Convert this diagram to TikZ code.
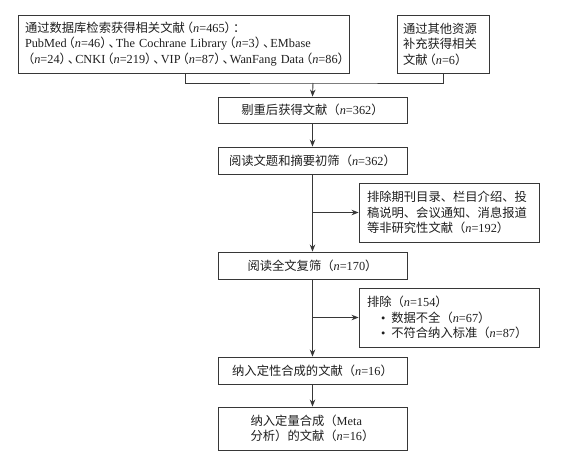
\documentclass[tikz,border=0pt]{standalone}
\usepackage{fontspec}
\setmainfont{Liberation Serif}
\newfontfamily\cjk{Noto Sans CJK SC}
\usetikzlibrary{arrows.meta}
\newcommand\zh[1]{{\cjk #1}}
\newcommand\nn[1]{\textit{n}=#1}
\newcommand\lp{{\cjk\kern-4pt（}}
\newcommand\rp{{\cjk ）\kern-4pt}}
\newcommand\dn{{\cjk 、\kern-5pt}}
\definecolor{lc}{RGB}{55,55,55}
\definecolor{tc}{RGB}{30,30,30}
\begin{document}
\begin{tikzpicture}[x=1pt,y=-1pt,
  box/.style={draw=lc, line width=0.9pt, text=tc, inner ysep=2pt,
    font=\fontsize{12.3}{15.5}\selectfont},
  mainbox/.style={box, minimum width=189pt, minimum height=26pt, align=center},
  sidebox/.style={box, text width=164pt, inner xsep=8pt, minimum height=59pt, align=left},
  arr/.style={draw=lc, line width=0.9pt, -{Stealth[length=7pt,width=5.5pt]}},
  ln/.style={draw=lc, line width=0.9pt}]
\useasboundingbox (0,0) rectangle (566,458);
\node[box, text width=317pt, inner xsep=7pt, minimum height=58pt, align=left] (A) at (183.5,44)
  {\mbox{\zh{通过数据库检索获得相关文献}\lp\nn{465}\rp\zh{：}}\\
   \mbox{PubMed\lp\nn{46}\rp\dn The Cochrane Library\lp\nn{3}\rp\dn EMbase}\\
   \mbox{\kern1pt\lp\nn{24}\rp\dn CNKI\lp\nn{219}\rp\dn VIP\lp\nn{87}\rp\dn WanFang Data\lp\nn{86}\rp}};
\node[box, text width=80pt, inner xsep=6pt, minimum height=58pt, align=left] (B) at (443,44)
  {\zh{通过其他资源}\\\zh{补充获得相关}\\\zh{文献}\lp\nn{6}\rp};
\coordinate (j) at (313,83);
\node[mainbox] (C) at (312.5,110) {\zh{剔重后获得文献（}\nn{362}\zh{）}};
\node[mainbox, minimum height=27pt] (D) at (312.5,160.5) {\zh{阅读文题和摘要初筛（}\nn{362}\zh{）}};
\node[sidebox] (E) at (449,212.5)
  {\zh{排除期刊目录、栏目介绍、投}\\\zh{稿说明、会议通知、消息报道}\\\zh{等非研究性文献（}\nn{192}\zh{）}};
\node[mainbox, minimum height=27pt] (F) at (312.5,265.5) {\zh{阅读全文复筛（}\nn{170}\zh{）}};
\node[sidebox] (G) at (449,317.5)
  {\zh{排除（}\nn{154}\zh{）}\\
   \hspace*{14pt}\textbullet\hspace{6pt}\zh{数据不全（}\nn{67}\zh{）}\\
   \hspace*{14pt}\textbullet\hspace{6pt}\zh{不符合纳入标准（}\nn{87}\zh{）}};
\node[mainbox, minimum height=27pt] (H) at (312.5,370.5) {\zh{纳入定性合成的文献（}\nn{16}\zh{）}};
\node[mainbox, minimum height=43pt, align=left] (I) at (312.5,428.5)
  {\zh{纳入定量合成（}Meta\\\zh{分析）的文献（}\nn{16}\zh{）}};
\draw[ln] (A.south -| 185,0) |- (j) -| (B.south);
\draw[arr] (j) -- (C.north);
\draw[arr] (C) -- (D);
\draw[arr] (D) -- (F);
\draw[arr] (D.south |- E.west) -- (E.west);
\draw[arr] (F) -- (H);
\draw[arr] (F.south |- G.west) -- (G.west);
\draw[arr] (H) -- (I);
\end{tikzpicture}
\end{document}
